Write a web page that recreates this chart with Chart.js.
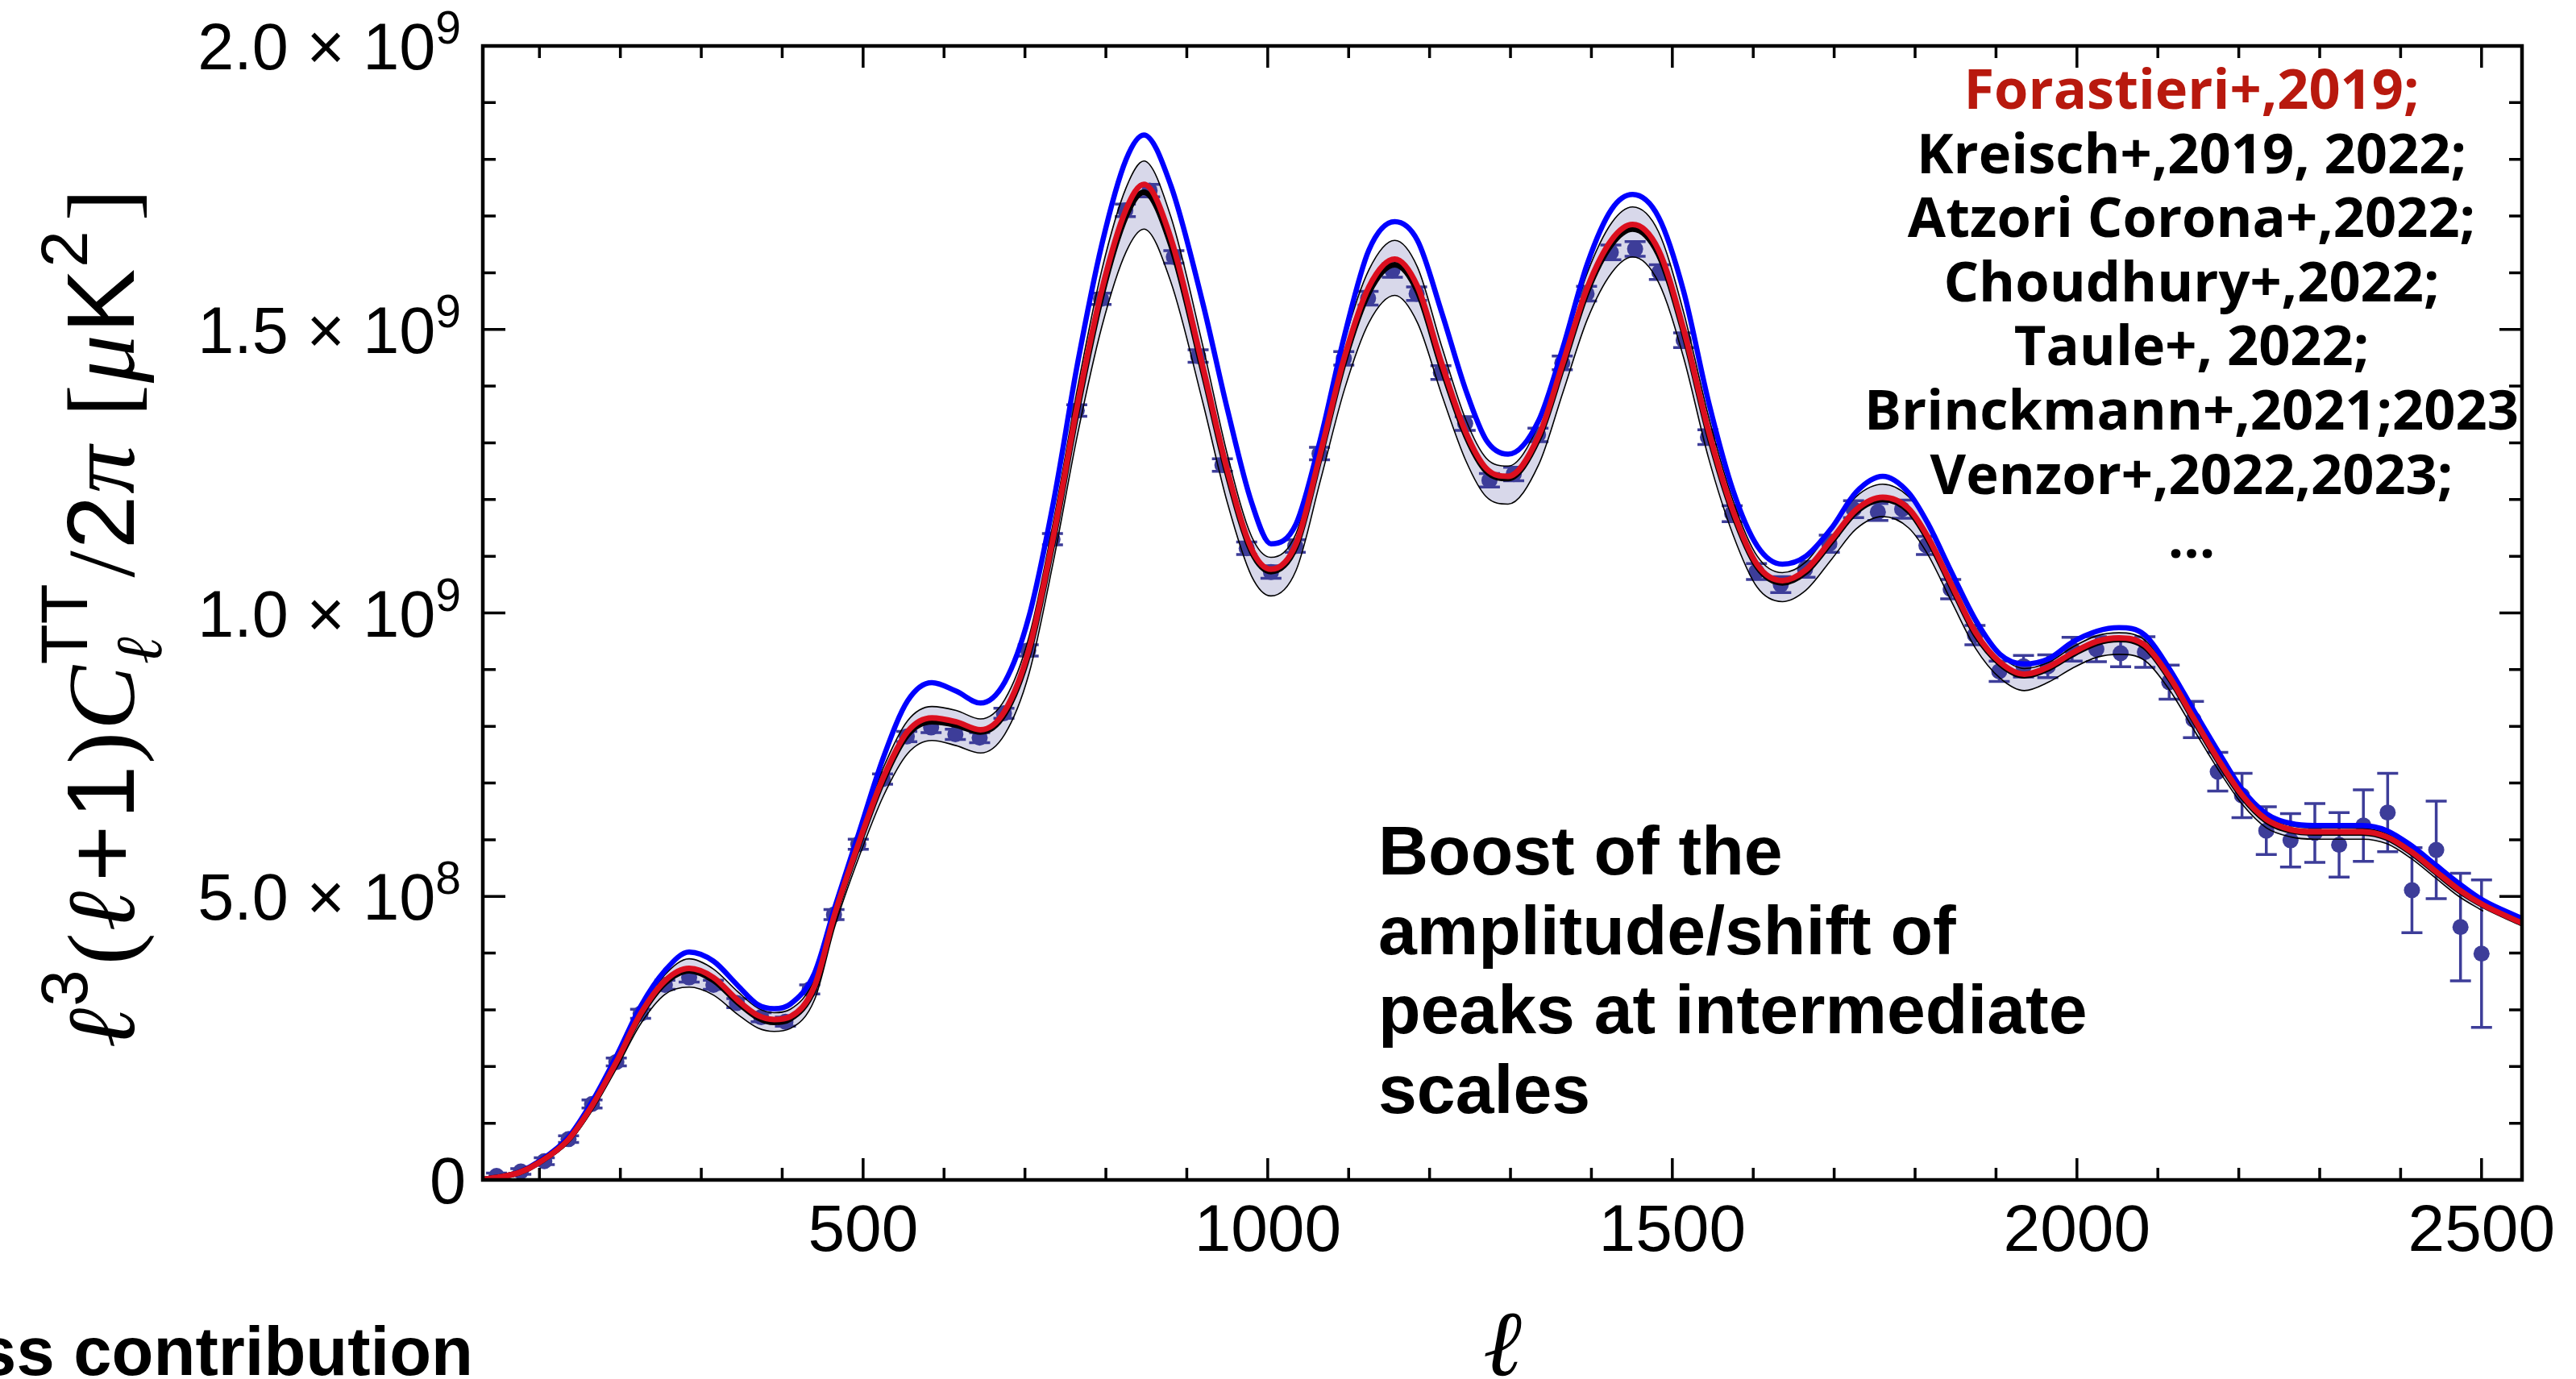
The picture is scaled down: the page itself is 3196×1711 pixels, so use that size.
<!DOCTYPE html>
<html>
<head>
<meta charset="utf-8">
<title>CMB TT spectrum, l^3(l+1)C_l/2pi</title>
<script src="https://cdn.jsdelivr.net/npm/chart.js@4.4.1/dist/chart.umd.min.js"></script>
<style>
  html, body { margin: 0; padding: 0; background: #fff; }
  #wrap { width: 3196px; height: 1711px; }
</style>
</head>
<body>
<div id="wrap"><canvas id="spectrum" width="3196" height="1711"></canvas></div>
<script>
// multipole grid for the model curves
const ell = [30, 50, 75, 100, 135, 165, 195, 225, 255, 285,
  315, 345, 370, 390, 410, 440, 465, 495, 525, 555,
  585, 615, 645, 675, 705, 735, 765, 795, 825, 847,
  880, 920, 950, 980, 1004, 1035, 1065, 1095, 1125, 1157,
  1185, 1215, 1245, 1270, 1297, 1335, 1365, 1395, 1425, 1451,
  1483, 1514, 1545, 1575, 1605, 1636, 1665, 1697, 1727, 1760,
  1792, 1815, 1845, 1875, 1905, 1935, 1965, 1995, 2025, 2052,
  2084, 2114, 2144, 2174, 2204, 2234, 2264, 2293, 2323, 2353,
  2383, 2412, 2442, 2472, 2502, 2550];

// values in units of 1e9 muK^2
const lcdm = [0.001, 0.005, 0.013, 0.031, 0.070, 0.130, 0.207, 0.290, 0.347, 0.369,
  0.352, 0.313, 0.286, 0.278, 0.284, 0.338, 0.466, 0.592, 0.705, 0.785,
  0.808, 0.802, 0.790, 0.822, 0.930, 1.128, 1.360, 1.560, 1.700, 1.742,
  1.650, 1.425, 1.245, 1.108, 1.073, 1.117, 1.276, 1.445, 1.565, 1.614,
  1.567, 1.432, 1.312, 1.250, 1.237, 1.308, 1.436, 1.567, 1.650, 1.677,
  1.632, 1.494, 1.314, 1.175, 1.081, 1.053, 1.072, 1.126, 1.178, 1.200,
  1.180, 1.132, 1.046, 0.961, 0.910, 0.889, 0.902, 0.927, 0.947, 0.953,
  0.940, 0.885, 0.812, 0.740, 0.676, 0.633, 0.616, 0.612, 0.612, 0.612,
  0.603, 0.578, 0.544, 0.510, 0.484, 0.452];

const lcdmHigh = [0.002, 0.006, 0.015, 0.034, 0.075, 0.136, 0.215, 0.302, 0.362, 0.390,
  0.372, 0.332, 0.303, 0.295, 0.301, 0.355, 0.482, 0.610, 0.727, 0.810,
  0.835, 0.828, 0.813, 0.847, 0.958, 1.160, 1.397, 1.605, 1.750, 1.797,
  1.700, 1.470, 1.280, 1.135, 1.098, 1.140, 1.300, 1.480, 1.605, 1.657,
  1.610, 1.470, 1.340, 1.273, 1.259, 1.333, 1.465, 1.600, 1.688, 1.716,
  1.672, 1.530, 1.345, 1.198, 1.100, 1.071, 1.090, 1.150, 1.205, 1.227,
  1.205, 1.158, 1.068, 0.980, 0.925, 0.902, 0.913, 0.940, 0.960, 0.965,
  0.952, 0.897, 0.824, 0.751, 0.686, 0.642, 0.625, 0.621, 0.621, 0.620,
  0.611, 0.586, 0.552, 0.518, 0.490, null];

const lcdmLow = [0.000, 0.004, 0.011, 0.028, 0.064, 0.122, 0.196, 0.275, 0.327, 0.340,
  0.326, 0.292, 0.268, 0.262, 0.267, 0.318, 0.447, 0.570, 0.677, 0.752,
  0.775, 0.766, 0.753, 0.786, 0.893, 1.090, 1.315, 1.505, 1.637, 1.677,
  1.585, 1.370, 1.195, 1.065, 1.030, 1.075, 1.233, 1.395, 1.512, 1.560,
  1.512, 1.385, 1.268, 1.205, 1.192, 1.262, 1.390, 1.518, 1.600, 1.628,
  1.583, 1.450, 1.272, 1.138, 1.045, 1.020, 1.040, 1.095, 1.148, 1.170,
  1.150, 1.105, 1.020, 0.937, 0.885, 0.863, 0.878, 0.903, 0.922, 0.927,
  0.916, 0.865, 0.795, 0.725, 0.663, 0.621, 0.605, 0.601, 0.601, 0.601,
  0.593, 0.568, 0.534, 0.500, 0.474, null];

const boosted = [0.001, 0.005, 0.014, 0.033, 0.074, 0.138, 0.218, 0.306, 0.369, 0.402,
  0.386, 0.343, 0.309, 0.302, 0.310, 0.365, 0.481, 0.613, 0.745, 0.845,
  0.877, 0.862, 0.841, 0.878, 0.994, 1.194, 1.440, 1.650, 1.800, 1.843,
  1.755, 1.545, 1.360, 1.195, 1.122, 1.157, 1.306, 1.490, 1.640, 1.690,
  1.657, 1.530, 1.392, 1.305, 1.280, 1.340, 1.469, 1.616, 1.712, 1.738,
  1.698, 1.567, 1.371, 1.216, 1.118, 1.086, 1.100, 1.150, 1.213, 1.241,
  1.212, 1.160, 1.072, 0.987, 0.927, 0.910, 0.919, 0.949, 0.968, 0.974,
  0.961, 0.902, 0.829, 0.757, 0.689, 0.646, 0.629, 0.625, 0.625, 0.625,
  0.616, 0.591, 0.557, 0.523, 0.493, 0.461];

const forastieri = [0.001, 0.005, 0.013, 0.031, 0.070, 0.131, 0.208, 0.293, 0.351, 0.373,
  0.357, 0.317, 0.290, 0.283, 0.288, 0.342, 0.469, 0.596, 0.710, 0.791,
  0.815, 0.808, 0.794, 0.827, 0.936, 1.134, 1.368, 1.570, 1.712, 1.756,
  1.662, 1.433, 1.252, 1.113, 1.077, 1.122, 1.281, 1.452, 1.575, 1.624,
  1.576, 1.440, 1.318, 1.255, 1.241, 1.313, 1.442, 1.574, 1.658, 1.685,
  1.640, 1.500, 1.320, 1.180, 1.085, 1.057, 1.076, 1.130, 1.182, 1.204,
  1.184, 1.136, 1.050, 0.965, 0.913, 0.892, 0.905, 0.930, 0.950, 0.956,
  0.943, 0.888, 0.815, 0.743, 0.679, 0.636, 0.618, 0.614, 0.614, 0.614,
  0.605, 0.580, 0.546, 0.512, 0.485, 0.453];

// binned data points with error bars
const dataEll = [47, 77, 106, 136, 165, 195, 225, 255, 285, 315,
  344, 374, 404, 434, 464, 494, 524, 554, 584, 614,
  644, 674, 704, 734, 764, 794, 824, 854, 884, 914,
  944, 974, 1004, 1034, 1064, 1094, 1124, 1154, 1184, 1214,
  1244, 1274, 1304, 1334, 1364, 1394, 1424, 1454, 1484, 1514,
  1544, 1574, 1604, 1634, 1664, 1694, 1724, 1754, 1784, 1814,
  1844, 1874, 1904, 1934, 1964, 1994, 2024, 2054, 2084, 2114,
  2144, 2174, 2204, 2234, 2264, 2294, 2324, 2354, 2384, 2414,
  2444, 2474, 2500];

const dataVal = [0.007, 0.015, 0.033, 0.072, 0.134, 0.208, 0.293, 0.344, 0.357, 0.344,
  0.312, 0.287, 0.279, 0.336, 0.468, 0.592, 0.707, 0.782, 0.798, 0.786,
  0.780, 0.823, 0.934, 1.130, 1.357, 1.554, 1.710, 1.745, 1.628, 1.453,
  1.261, 1.114, 1.072, 1.118, 1.281, 1.449, 1.555, 1.604, 1.563, 1.424,
  1.334, 1.234, 1.245, 1.314, 1.441, 1.563, 1.636, 1.642, 1.601, 1.481,
  1.310, 1.175, 1.073, 1.050, 1.077, 1.122, 1.183, 1.178, 1.183, 1.119,
  1.042, 0.961, 0.897, 0.906, 0.906, 0.936, 0.936, 0.929, 0.931, 0.878,
  0.812, 0.720, 0.678, 0.616, 0.599, 0.612, 0.591, 0.625, 0.648, 0.511,
  0.582, 0.446, 0.399];

const dataErr = [0.005, 0.005, 0.006, 0.006, 0.007, 0.007, 0.008, 0.008, 0.008, 0.008,
  0.008, 0.008, 0.008, 0.008, 0.009, 0.009, 0.009, 0.009, 0.009, 0.009,
  0.009, 0.009, 0.010, 0.010, 0.010, 0.010, 0.011, 0.011, 0.011, 0.011,
  0.011, 0.011, 0.011, 0.011, 0.011, 0.012, 0.012, 0.012, 0.012, 0.012,
  0.012, 0.012, 0.012, 0.012, 0.012, 0.013, 0.013, 0.013, 0.013, 0.013,
  0.013, 0.014, 0.014, 0.014, 0.014, 0.015, 0.015, 0.015, 0.016, 0.016,
  0.017, 0.017, 0.018, 0.019, 0.020, 0.021, 0.022, 0.024, 0.027, 0.030,
  0.032, 0.034, 0.039, 0.042, 0.047, 0.052, 0.057, 0.063, 0.069, 0.075,
  0.086, 0.095, 0.130];

const xTickVals = [500, 1000, 1500, 2000, 2500];
const xTickText = ['500', '1000', '1500', '2000', '2500'];
const yTickVals = [0, 0.5, 1.0, 1.5, 2.0];
const yTickText = ['0', '5.0 \u00d7 10', '1.0 \u00d7 10', '1.5 \u00d7 10', '2.0 \u00d7 10'];
const yTickExp = ['', '8', '9', '9', '9'];

const refLines = ['Forastieri+,2019;', 'Kreisch+,2019, 2022;', 'Atzori Corona+,2022;',
  'Choudhury+,2022;', 'Taule+, 2022;', 'Brinckmann+,2021;2023', 'Venzor+,2022,2023;', '...'];
const noteLines = ['Boost of the', 'amplitude/shift of', 'peaks at intermediate', 'scales'];

const SANS = '"Liberation Sans", Arial, sans-serif';
const SERIF = '"Liberation Serif", "Times New Roman", serif';
const dotColor = '#3d3d99';

const curve = ys => ell.map((l, i) => ({ x: l, y: ys[i] }));

// error bars for the binned points, drawn just before the dots
const errorBars = {
  id: 'errorBars',
  beforeDatasetDraw(chart, args) {
    if (chart.data.datasets[args.index].label !== 'Planck') return;
    const { ctx, chartArea: a } = chart;
    const x = chart.scales.x, y = chart.scales.y;
    ctx.save();
    ctx.beginPath();
    ctx.rect(a.left, a.top, a.right - a.left, a.bottom - a.top);
    ctx.clip();
    ctx.strokeStyle = dotColor;
    ctx.lineWidth = 3.5;
    dataEll.forEach((l, i) => {
      const px = x.getPixelForValue(l);
      const top = y.getPixelForValue(dataVal[i] + dataErr[i]);
      const bot = y.getPixelForValue(dataVal[i] - dataErr[i]);
      ctx.beginPath();
      ctx.moveTo(px, top); ctx.lineTo(px, bot);
      ctx.moveTo(px - 13, top); ctx.lineTo(px + 13, top);
      ctx.moveTo(px - 13, bot); ctx.lineTo(px + 13, bot);
      ctx.stroke();
    });
    ctx.restore();
  }
};

// frame with inward ticks on all four sides
const frame = {
  id: 'frame',
  afterDatasetsDraw(chart) {
    const { ctx, chartArea: a } = chart;
    const x = chart.scales.x, y = chart.scales.y;
    ctx.save();
    ctx.strokeStyle = '#000';
    ctx.lineWidth = 3.5;
    ctx.beginPath();
    for (let v = 100; v <= 2500; v += 100) {
      const px = x.getPixelForValue(v);
      const len = v % 500 === 0 ? 27 : 15;
      ctx.moveTo(px, a.bottom); ctx.lineTo(px, a.bottom - len);
      ctx.moveTo(px, a.top); ctx.lineTo(px, a.top + len);
    }
    for (let i = 1; i < 20; i++) {
      const py = y.getPixelForValue(i / 10);
      const len = i % 5 === 0 ? 28 : 16;
      ctx.moveTo(a.left, py); ctx.lineTo(a.left + len, py);
      ctx.moveTo(a.right, py); ctx.lineTo(a.right - len, py);
    }
    ctx.stroke();
    ctx.lineWidth = 4.5;
    ctx.strokeRect(a.left, a.top, a.right - a.left, a.bottom - a.top);
    ctx.restore();
  }
};

function fitSize(ctx, text, weight, family, target) {
  ctx.font = `${weight} 100px ${family}`;
  return 100 * target / ctx.measureText(text).width;
}

function drawYTitle(ctx, cx, cy, target) {
  const parts = [
    { t: '\u2113', f: 'mi' }, { t: '3', f: 'sup', dy: -58 },
    { t: '(', f: 'rm', gap: 4 }, { t: '\u2113', f: 'mi' }, { t: '+', f: 'sf', gap: 10 },
    { t: '1', f: 'sf', gap: 6 }, { t: ')', f: 'rm' }, { t: 'C', f: 'mi' },
    { t: 'TT', f: 'sup', dy: -58, under: '\u2113' },
    { t: '/', f: 'rm', gap: 6 }, { t: '2', f: 'sf' }, { t: '\u03c0', f: 'mi' },
    { t: '[', f: 'rm', gap: 34 }, { t: '\u03bc', f: 'mi' }, { t: 'K', f: 'sf' },
    { t: '2', f: 'sup', dy: -58 }, { t: ']', f: 'rm', gap: 10 }
  ];
  const fonts = k => ({
    mi: `italic ${120 * k}px ${SERIF}`,
    rm: `${120 * k}px ${SERIF}`,
    sf: `${120 * k}px ${SANS}`,
    sup: `${82 * k}px ${SANS}`,
    sub: `italic ${82 * k}px ${SERIF}`
  });
  const layout = k => {
    const F = fonts(k);
    let w = 0;
    const out = parts.map(p => {
      w += (p.gap || 0) * k;
      ctx.font = F[p.f];
      const adv = ctx.measureText(p.t).width;
      let subW = 0;
      if (p.under) { ctx.font = F.sub; subW = ctx.measureText(p.under).width; }
      const item = { ...p, x: w, font: F[p.f], subFont: F.sub, k };
      w += Math.max(adv, subW) + 2 * k;
      return item;
    });
    return { out, w };
  };
  let L = layout(1);
  const k = Math.min(1.12, Math.max(0.88, target / L.w));
  L = layout(k);
  ctx.save();
  ctx.translate(cx, cy);
  ctx.rotate(-Math.PI / 2);
  ctx.textAlign = 'left';
  ctx.textBaseline = 'alphabetic';
  ctx.fillStyle = '#000';
  const x0 = -L.w / 2;
  L.out.forEach(p => {
    ctx.font = p.font;
    ctx.fillText(p.t, x0 + p.x, (p.dy || 0) * p.k);
    if (p.under) {
      ctx.font = p.subFont;
      ctx.fillText(p.under, x0 + p.x, 34 * p.k);
    }
  });
  ctx.restore();
}

// tick labels, axis titles and annotations
const texts = {
  id: 'texts',
  afterDraw(chart) {
    const { ctx, chartArea: a } = chart;
    const x = chart.scales.x, y = chart.scales.y;
    ctx.save();
    ctx.fillStyle = '#000';
    ctx.textBaseline = 'alphabetic';

    ctx.font = `82px ${SANS}`;
    ctx.textAlign = 'center';
    xTickVals.forEach((v, i) => ctx.fillText(xTickText[i], x.getPixelForValue(v), a.bottom + 88));

    yTickVals.forEach((v, i) => {
      const py = y.getPixelForValue(v);
      let right = a.left - 27;
      if (yTickExp[i]) {
        ctx.font = `57px ${SANS}`;
        const we = ctx.measureText(yTickExp[i]).width;
        ctx.textAlign = 'left';
        ctx.fillText(yTickExp[i], right - we, py - 3);
        right -= we;
      } else {
        right = a.left - 21;
      }
      ctx.font = `81px ${SANS}`;
      ctx.textAlign = 'right';
      ctx.fillText(yTickText[i], right, py + 29);
    });

    // x axis title
    ctx.font = `italic 115px ${SERIF}`;
    ctx.textAlign = 'center';
    ctx.fillText('\u2113', (a.left + a.right) / 2, 1706);

    drawYTitle(ctx, 166, (a.top + a.bottom) / 2 + 6, 1068);

    // references, centred block at top right
    const refSize = fitSize(ctx, refLines[5], 'bold', '"Open Sans", ' + SANS, 812);
    ctx.font = `bold ${refSize}px "Open Sans", ${SANS}`;
    ctx.textAlign = 'center';
    refLines.forEach((t, i) => {
      ctx.fillStyle = i === 0 ? '#b8190e' : '#000';
      ctx.fillText(t, 2719, 135 + 79.6 * i);
    });

    // note in the middle
    ctx.fillStyle = '#000';
    ctx.font = `bold 86px ${SANS}`;
    ctx.textAlign = 'left';
    noteLines.forEach((t, i) => ctx.fillText(t, 1710, 1085 + 98.7 * i));

    // cut-off caption at the bottom left
    ctx.font = `bold 85px ${SANS}`;
    ctx.textAlign = 'right';
    ctx.fillText('ss contribution', 587, 1706);
    ctx.restore();
  }
};

const common = { pointRadius: 0, fill: false, cubicInterpolationMode: 'monotone' };

new Chart(document.getElementById('spectrum'), {
  type: 'line',
  data: {
    datasets: [
      { ...common, label: 'Forastieri+2019', data: curve(forastieri), borderColor: '#dc0f1f', borderWidth: 7, order: 0 },
      { ...common, label: 'LCDM', data: curve(lcdm), borderColor: '#000', borderWidth: 7, order: 1 },
      { ...common, label: 'boost', data: curve(boosted), borderColor: '#0000ff', borderWidth: 6.5, order: 2 },
      { ...common, label: 'band upper', data: curve(lcdmHigh), borderColor: '#000', borderWidth: 1.6, order: 3 },
      { ...common, label: 'band lower', data: curve(lcdmLow), borderColor: '#000', borderWidth: 1.6, order: 4 },
      { label: 'Planck', data: dataEll.map((l, i) => ({ x: l, y: dataVal[i] })), showLine: false,
        pointRadius: 10, pointBackgroundColor: dotColor, pointBorderColor: dotColor, pointBorderWidth: 0, order: 5 },
      { ...common, label: 'band fill', data: curve(lcdmHigh), borderColor: 'rgba(0,0,0,0)', borderWidth: 0,
        fill: 7, backgroundColor: 'rgb(216,216,234)', order: 6 },
      { ...common, label: 'band base', data: curve(lcdmLow), borderColor: 'rgba(0,0,0,0)', borderWidth: 0, order: 7 }
    ]
  },
  options: {
    responsive: false,
    animation: false,
    devicePixelRatio: 1,
    layout: { padding: { left: 599, right: 67, top: 57, bottom: 247 } },
    scales: {
      x: { type: 'linear', min: 30, max: 2550, display: false },
      y: { type: 'linear', min: 0, max: 2, display: false }
    },
    plugins: { legend: { display: false }, tooltip: { enabled: false } }
  },
  plugins: [errorBars, frame, texts]
});
</script>
</body>
</html>
